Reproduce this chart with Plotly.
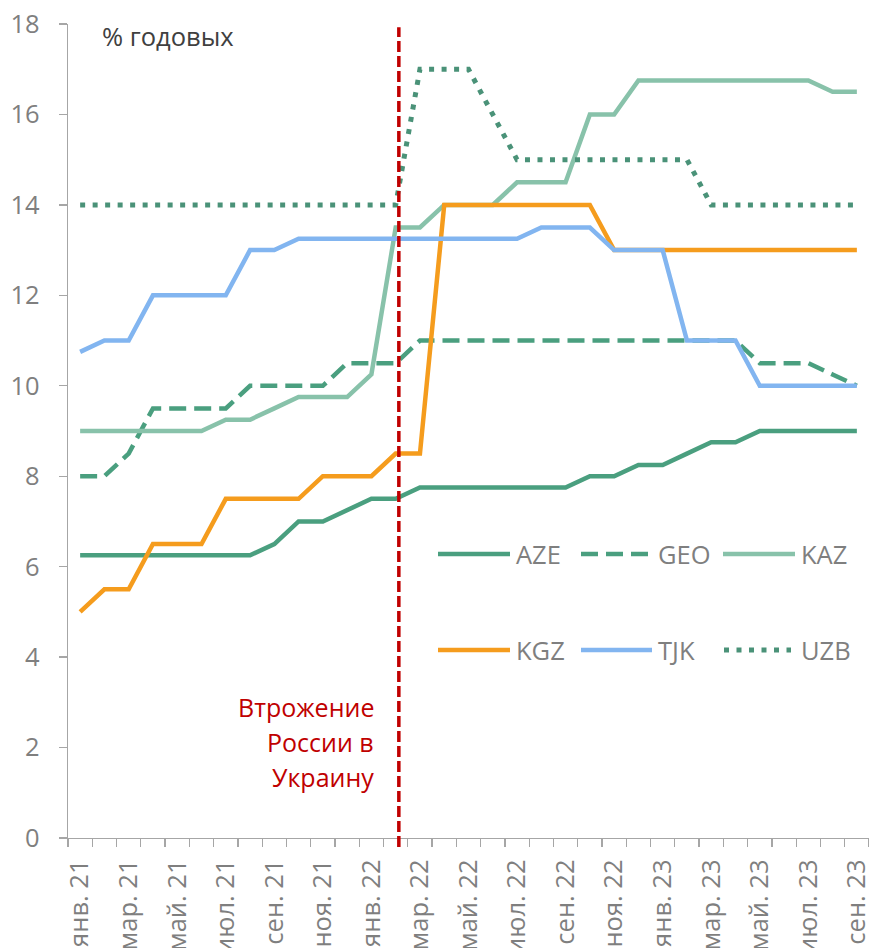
import plotly.graph_objects as go

# ---------------- data ----------------
months = [
    "янв. 21", "фев. 21", "мар. 21", "апр. 21", "май. 21", "июн. 21",
    "июл. 21", "авг. 21", "сен. 21", "окт. 21", "ноя. 21", "дек. 21",
    "янв. 22", "фев. 22", "мар. 22", "апр. 22", "май. 22", "июн. 22",
    "июл. 22", "авг. 22", "сен. 22", "окт. 22", "ноя. 22", "дек. 22",
    "янв. 23", "фев. 23", "мар. 23", "апр. 23", "май. 23", "июн. 23",
    "июл. 23", "авг. 23", "сен. 23",
]

AZE = [6.25, 6.25, 6.25, 6.25, 6.25, 6.25, 6.25, 6.25, 6.5, 7, 7, 7.25, 7.5, 7.5,
       7.75, 7.75, 7.75, 7.75, 7.75, 7.75, 7.75, 8, 8, 8.25, 8.25, 8.5, 8.75, 8.75,
       9, 9, 9, 9, 9]
GEO = [8, 8, 8.5, 9.5, 9.5, 9.5, 9.5, 10, 10, 10, 10, 10.5, 10.5, 10.5,
       11, 11, 11, 11, 11, 11, 11, 11, 11, 11, 11, 11, 11, 11,
       10.5, 10.5, 10.5, 10.25, 10]
KAZ = [9, 9, 9, 9, 9, 9, 9.25, 9.25, 9.5, 9.75, 9.75, 9.75, 10.25, 13.5,
       13.5, 14, 14, 14, 14.5, 14.5, 14.5, 16, 16, 16.75, 16.75, 16.75, 16.75, 16.75,
       16.75, 16.75, 16.75, 16.5, 16.5]
KGZ = [5, 5.5, 5.5, 6.5, 6.5, 6.5, 7.5, 7.5, 7.5, 7.5, 8, 8, 8, 8.5,
       8.5, 14, 14, 14, 14, 14, 14, 14, 13, 13, 13, 13, 13, 13,
       13, 13, 13, 13, 13]
TJK = [10.75, 11, 11, 12, 12, 12, 12, 13, 13, 13.25, 13.25, 13.25, 13.25, 13.25,
       13.25, 13.25, 13.25, 13.25, 13.25, 13.5, 13.5, 13.5, 13, 13, 13, 11, 11, 11,
       10, 10, 10, 10, 10]
UZB = [14, 14, 14, 14, 14, 14, 14, 14, 14, 14, 14, 14, 14, 14,
       17, 17, 17, 16, 15, 15, 15, 15, 15, 15, 15, 15, 14, 14,
       14, 14, 14, 14, 14]

series_names = ["AZE", "GEO", "KAZ", "KGZ", "TJK", "UZB"]
series_values = [AZE, GEO, KAZ, KGZ, TJK, UZB]

y_ticks = [0, 2, 4, 6, 8, 10, 12, 14, 16, 18]
invasion_pos = 13.13          # between фев. 22 and мар. 22
unit_label = "% годовых"
invasion_lines = ["Втрожение", "России в", "Украину"]

# ---------------- styles ----------------
styles = {
    "AZE": dict(color="#4A9F7F", dash="solid", width=4.5),
    "GEO": dict(color="#4A9F7F", dash="17px,8px", width=4.5),
    "KAZ": dict(color="#88C2AA", dash="solid", width=4.5),
    "KGZ": dict(color="#F59C1D", dash="solid", width=4.5),
    "TJK": dict(color="#82B5F0", dash="solid", width=4.5),
    "UZB": dict(color="#4A9278", dash="5px,7.5px", width=5),
}

W, H = 869, 948
ML, MR, MT = 68, 0, 24
PLOT_BOTTOM = 838
MB = H - PLOT_BOTTOM
PW, PH = W - ML - MR, H - MT - MB
FONT = "Open Sans"
GREY = "#7F7F7F"
AXIS = "#A6A6A6"
FS = 25.5


def px_x(p):
    """page pixel -> paper x"""
    return (p - ML) / PW


def px_y(p):
    """page pixel -> paper y"""
    return (PLOT_BOTTOM - p) / PH


x_idx = list(range(len(months)))

fig = go.Figure()
for name, vals in zip(series_names, series_values):
    st = styles[name]
    fig.add_trace(go.Scatter(
        x=x_idx, y=vals, mode="lines", name=name, showlegend=False,
        line=dict(color=st["color"], dash=st["dash"], width=st["width"]),
        hoverinfo="x+y+name",
    ))

shapes = []
annotations = []

# invasion line
shapes.append(dict(
    type="line", xref="x", yref="paper", x0=invasion_pos, x1=invasion_pos,
    y0=-0.011, y1=0.996,
    line=dict(color="#C00000", width=3.5, dash="11px,4px"), layer="above",
))
for i, line_text in enumerate(invasion_lines):
    annotations.append(dict(
        xref="paper", yref="paper", x=px_x(376), y=px_y(707 + 35 * i),
        xanchor="right", yanchor="middle", align="right", showarrow=False,
        text=line_text, font=dict(family=FONT, size=25, color="#C00000"),
    ))
annotations.append(dict(
    xref="paper", yref="paper", x=px_x(100), y=px_y(36),
    xanchor="left", yanchor="middle", showarrow=False,
    text=unit_label, font=dict(family=FONT, size=FS, color="#404040"),
))

# manual legend (two rows of three)
legend_pos = {
    "AZE": (438, 510, 554), "GEO": (581, 652, 554), "KAZ": (723, 795, 554),
    "KGZ": (438, 510, 650), "TJK": (581, 652, 650), "UZB": (724, 791, 650),
}
legend_text_x = {"AZE": 514, "GEO": 656, "KAZ": 799, "KGZ": 514, "TJK": 656, "UZB": 799}
for name in series_names:
    x0, x1, yy = legend_pos[name]
    st = styles[name]
    shapes.append(dict(
        type="line", xref="paper", yref="paper",
        x0=px_x(x0), x1=px_x(x1), y0=px_y(yy), y1=px_y(yy),
        line=dict(color=st["color"], width=st["width"], dash=st["dash"]),
    ))
    annotations.append(dict(
        xref="paper", yref="paper", x=px_x(legend_text_x[name]), y=px_y(yy),
        xanchor="left", yanchor="middle", showarrow=False, text=name,
        font=dict(family=FONT, size=FS, color=GREY),
    ))

fig.update_layout(
    width=W, height=H, autosize=False,
    margin=dict(l=ML, r=MR, t=MT, b=MB, pad=0, autoexpand=False),
    paper_bgcolor="white", plot_bgcolor="white",
    font=dict(family=FONT, size=FS, color=GREY),
    showlegend=False,
    shapes=shapes, annotations=annotations,
    xaxis=dict(
        range=[-0.5, len(months) - 0.5], automargin=False,
        tickmode="array", tickvals=x_idx[::2], ticktext=months[::2],
        ticks="", tickangle=-90, ticklabelstandoff=10, ticklabeloverflow="allow",
        tickfont=dict(family=FONT, size=FS, color=GREY),
        showline=True, linecolor=AXIS, linewidth=1.3,
        showgrid=False, zeroline=False,
        minor=dict(tickmode="array", tickvals=[i - 0.5 for i in range(len(months) + 1)],
                   ticks="outside", ticklen=8, tickwidth=1.3, tickcolor=AXIS, showgrid=False),
    ),
    yaxis=dict(
        range=[0, 18], tickmode="array", tickvals=y_ticks, automargin=False,
        ticks="outside", ticklen=8, tickwidth=1.3, tickcolor=AXIS,
        ticklabelstandoff=14, ticklabeloverflow="allow",
        tickfont=dict(family=FONT, size=FS, color=GREY),
        showline=True, linecolor=AXIS, linewidth=1.3,
        showgrid=False, zeroline=False,
    ),
)

fig.write_html(
    "out.html",
    config={"displayModeBar": False, "staticPlot": True},
    post_script="document.body.style.margin='0';document.body.style.overflow='hidden';",
)
